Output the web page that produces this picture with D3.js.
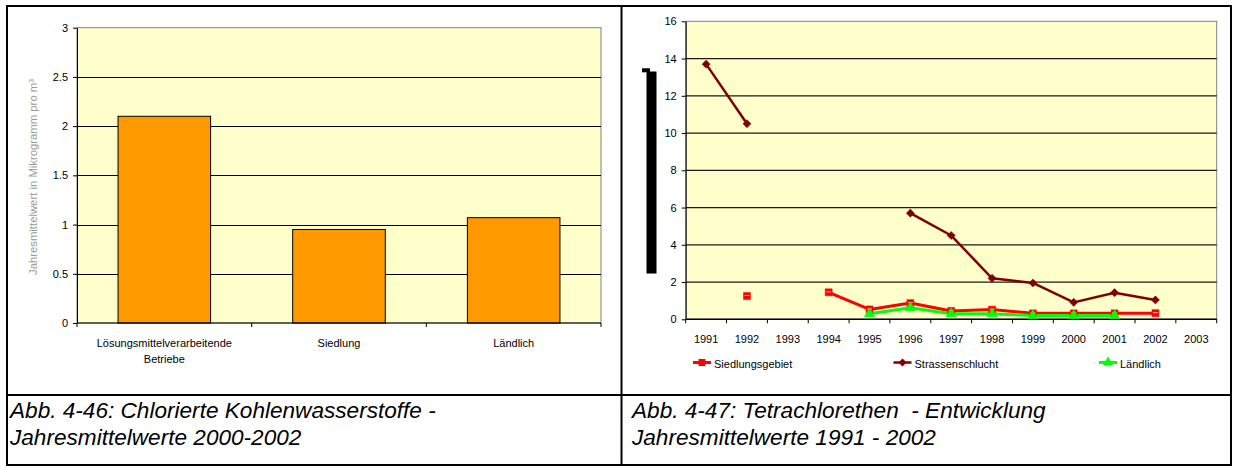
<!DOCTYPE html>
<html><head><meta charset="utf-8">
<script src="https://cdn.jsdelivr.net/npm/d3@7"></script>
<style>
body{margin:0;background:#fff;}
svg{display:block;font-family:"Liberation Sans",Arial,sans-serif;}
</style>
</head><body>
<svg id="c" width="1233" height="468"></svg>
<script>
// ---------- data ----------
const barCategories = ["Lösungsmittelverarbeitende Betriebe", "Siedlung", "Ländlich"];
const barValues = [2.1, 0.95, 1.07];
const barTicks = [0, 0.5, 1, 1.5, 2, 2.5, 3];
const barAxisTitle = "Jahresmittelwert in Mikrogramm pro m³";

const years = ["1991","1992","1993","1994","1995","1996","1997","1998","1999","2000","2001","2002","2003"];
const siedlungsgebiet = [null, 1.25, null, 1.45, 0.53, 0.87, 0.45, 0.52, 0.32, 0.32, 0.32, 0.33, null];
const strassenschlucht = [13.7, 10.5, null, null, null, 5.7, 4.5, 2.2, 1.95, 0.91, 1.43, 1.04, null];
const laendlich = [null, null, null, null, 0.3, 0.62, 0.3, 0.3, 0.2, 0.2, 0.2, null, null];
const lineTicks = [0, 2, 4, 6, 8, 10, 12, 14, 16];
const seriesNames = ["Siedlungsgebiet", "Strassenschlucht", "Ländlich"];

const captionLeft = ["Abb. 4-46: Chlorierte Kohlenwasserstoffe -", "Jahresmittelwerte 2000-2002"];
const captionRight = ["Abb. 4-47: Tetrachlorethen  - Entwicklung", "Jahresmittelwerte 1991 - 2002"];

// ---------- frame ----------
const svg = d3.select("#c");
svg.append("rect").attr("x", 7).attr("y", 6).attr("width", 1224).attr("height", 459)
  .attr("fill", "none").attr("stroke", "#000").attr("stroke-width", 2);
svg.append("line").attr("x1", 621.5).attr("x2", 621.5).attr("y1", 6).attr("y2", 465)
  .attr("stroke", "#000").attr("stroke-width", 2);
svg.append("line").attr("x1", 7).attr("x2", 1231).attr("y1", 395).attr("y2", 395)
  .attr("stroke", "#000").attr("stroke-width", 2);

// ---------- left bar chart ----------
const L = {left: 77, right: 601, top: 27.7, bottom: 323};
const xb = d3.scaleBand().domain(barCategories).range([L.left, L.right])
  .paddingInner(0.47).paddingOuter(0.235);
const yb = d3.scaleLinear().domain([0, 3]).range([L.bottom, L.top]);
const gl = svg.append("g");

gl.append("rect").attr("x", L.left).attr("y", L.top)
  .attr("width", L.right - L.left).attr("height", L.bottom - L.top)
  .attr("fill", "#FFFFCC").attr("stroke", "#808080").attr("stroke-width", 1);

gl.selectAll("line.grid").data(barTicks.filter(t => t > 0 && t < 3)).join("line")
  .attr("class", "grid")
  .attr("x1", L.left).attr("x2", L.right)
  .attr("y1", d => Math.round(yb(d)) + 0.5).attr("y2", d => Math.round(yb(d)) + 0.5)
  .attr("stroke", "#000").attr("stroke-width", 1);

gl.selectAll("rect.bar").data(barValues).join("rect")
  .attr("class", "bar")
  .attr("x", (d, i) => xb(barCategories[i]))
  .attr("y", d => yb(d))
  .attr("width", xb.bandwidth())
  .attr("height", d => yb(0) - yb(d))
  .attr("fill", "#FF9900").attr("stroke", "#000").attr("stroke-width", 1);

const yAxisL = d3.axisLeft(yb).tickValues(barTicks).tickSize(4).tickSizeOuter(0)
  .tickPadding(5).tickFormat(d => String(d));
const gya = gl.append("g").attr("transform", `translate(${L.left},0)`).call(yAxisL);
gya.select(".domain").attr("stroke", "#000");
gya.selectAll("text").attr("font-size", 11).attr("fill", "#000")
  .attr("font-family", "Liberation Sans, Arial, sans-serif");

// bottom axis with ticks at category boundaries
gl.append("line").attr("x1", L.left).attr("x2", L.right)
  .attr("y1", L.bottom).attr("y2", L.bottom).attr("stroke", "#000");
gl.selectAll("line.xtick").data(d3.range(barCategories.length + 1)).join("line")
  .attr("class", "xtick")
  .attr("x1", i => L.left + i * xb.step()).attr("x2", i => L.left + i * xb.step())
  .attr("y1", L.bottom).attr("y2", L.bottom + 4).attr("stroke", "#000");

barCategories.forEach(c => {
  const cx = xb(c) + xb.bandwidth() / 2;
  const words = c.split(" ");
  words.forEach((w, k) => {
    gl.append("text").attr("x", cx).attr("y", 347 + k * 16)
      .attr("text-anchor", "middle").attr("font-size", 11).attr("fill", "#000").text(w);
  });
});

gl.append("text")
  .attr("transform", "translate(37,177) rotate(-90)")
  .attr("text-anchor", "middle").attr("font-size", 11).attr("fill", "#9a9a9a")
  .attr("textLength", 196).attr("lengthAdjust", "spacingAndGlyphs")
  .text(barAxisTitle);

// ---------- right line chart ----------
const R = {left: 685.7, right: 1216.7, top: 21.3, bottom: 319.3};
const xl = d3.scaleBand().domain(years).range([R.left, R.right]).padding(0);
const yl = d3.scaleLinear().domain([0, 16]).range([R.bottom, R.top]);
const gr = svg.append("g");

gr.append("rect").attr("x", R.left).attr("y", R.top)
  .attr("width", R.right - R.left).attr("height", R.bottom - R.top)
  .attr("fill", "#FFFFCC").attr("stroke", "#808080").attr("stroke-width", 1);

gr.selectAll("line.grid").data(lineTicks.filter(t => t > 0 && t < 16)).join("line")
  .attr("class", "grid")
  .attr("x1", R.left).attr("x2", R.right)
  .attr("y1", d => yl(d)).attr("y2", d => yl(d))
  .attr("stroke", "#1a1a1a").attr("stroke-width", 1.2);

const yAxisR = d3.axisLeft(yl).tickValues(lineTicks).tickSize(4).tickSizeOuter(0)
  .tickPadding(5).tickFormat(d => String(d));
const gyr = gr.append("g").attr("transform", `translate(${R.left},0)`).call(yAxisR);
gyr.select(".domain").attr("stroke", "#000");
gyr.selectAll("text").attr("font-size", 11).attr("fill", "#000")
  .attr("font-family", "Liberation Sans, Arial, sans-serif");

gr.append("line").attr("x1", R.left).attr("x2", R.right)
  .attr("y1", R.bottom).attr("y2", R.bottom).attr("stroke", "#000").attr("stroke-width", 1.5);
gr.selectAll("line.xtick").data(d3.range(years.length + 1)).join("line")
  .attr("class", "xtick")
  .attr("x1", i => R.left + i * xl.step()).attr("x2", i => R.left + i * xl.step())
  .attr("y1", R.bottom).attr("y2", R.bottom + 4).attr("stroke", "#000");
gr.selectAll("text.xl").data(years).join("text")
  .attr("class", "xl")
  .attr("x", d => xl(d) + xl.bandwidth() / 2).attr("y", 343)
  .attr("text-anchor", "middle").attr("font-size", 11).attr("fill", "#000").text(d => d);

// black block (broken axis title in the original)
gr.append("rect").attr("x", 646.5).attr("y", 71.5).attr("width", 10).attr("height", 202).attr("fill", "#000");
gr.append("rect").attr("x", 642).attr("y", 68.3).attr("width", 8).attr("height", 4).attr("fill", "#000");

const series = [
  {name: seriesNames[0], values: siedlungsgebiet, color: "#FF0000", width: 3, sym: d3.symbolSquare, size: 49},
  {name: seriesNames[1], values: strassenschlucht, color: "#800000", width: 2.5, sym: d3.symbolDiamond2, size: 42},
  {name: seriesNames[2], values: laendlich, color: "#00FF00", width: 3, sym: d3.symbolTriangle, size: 45}
];

const line = d3.line()
  .defined(d => d.v != null)
  .x(d => xl(d.y) + xl.bandwidth() / 2)
  .y(d => yl(d.v));

series.forEach(s => {
  const pts = years.map((y, i) => ({y, v: s.values[i]}));
  gr.append("path").datum(pts).attr("d", line)
    .attr("fill", "none").attr("stroke", s.color).attr("stroke-width", s.width)
    .attr("stroke-linejoin", "round");
});
series.forEach(s => {
  const pts = years.map((y, i) => ({y, v: s.values[i]})).filter(d => d.v != null);
  gr.selectAll(null).data(pts).join("path")
    .attr("transform", d => `translate(${xl(d.y) + xl.bandwidth() / 2},${yl(d.v)})`)
    .attr("d", d3.symbol().type(s.sym).size(s.size))
    .attr("fill", s.color).attr("stroke", s.color).attr("stroke-width", 0.5);
  if (s.sym === d3.symbolSquare) {
    gr.selectAll(null).data(pts).join("line")
      .attr("x1", d => xl(d.y) + xl.bandwidth() / 2 - 2.5)
      .attr("x2", d => xl(d.y) + xl.bandwidth() / 2 + 2.5)
      .attr("y1", d => yl(d.v) - 0.5).attr("y2", d => yl(d.v) - 0.5)
      .attr("stroke", "#ffb0b0").attr("stroke-width", 1);
  }
});

// legend
const legendX = [693, 893.5, 1099];
series.forEach((s, i) => {
  const x0 = legendX[i];
  gr.append("line").attr("x1", x0).attr("x2", x0 + 18).attr("y1", 362.5).attr("y2", 362.5)
    .attr("stroke", s.color).attr("stroke-width", s.width);
  gr.append("path").attr("transform", `translate(${x0 + 9},362.5)`)
    .attr("d", d3.symbol().type(s.sym).size(s.size)).attr("fill", s.color);
  gr.append("text").attr("x", x0 + 21).attr("y", 368).attr("font-size", 11)
    .attr("fill", "#000").text(s.name);
});

// ---------- captions ----------
function caption(lines, x) {
  lines.forEach((t, k) => {
    svg.append("text").attr("x", x).attr("y", 418 + k * 27)
      .attr("font-size", 22.6).attr("font-style", "italic").attr("fill", "#000")
      .style("white-space", "pre").text(t);
  });
}
caption(captionLeft, 10);
caption(captionRight, 632);
</script>
</body></html>
